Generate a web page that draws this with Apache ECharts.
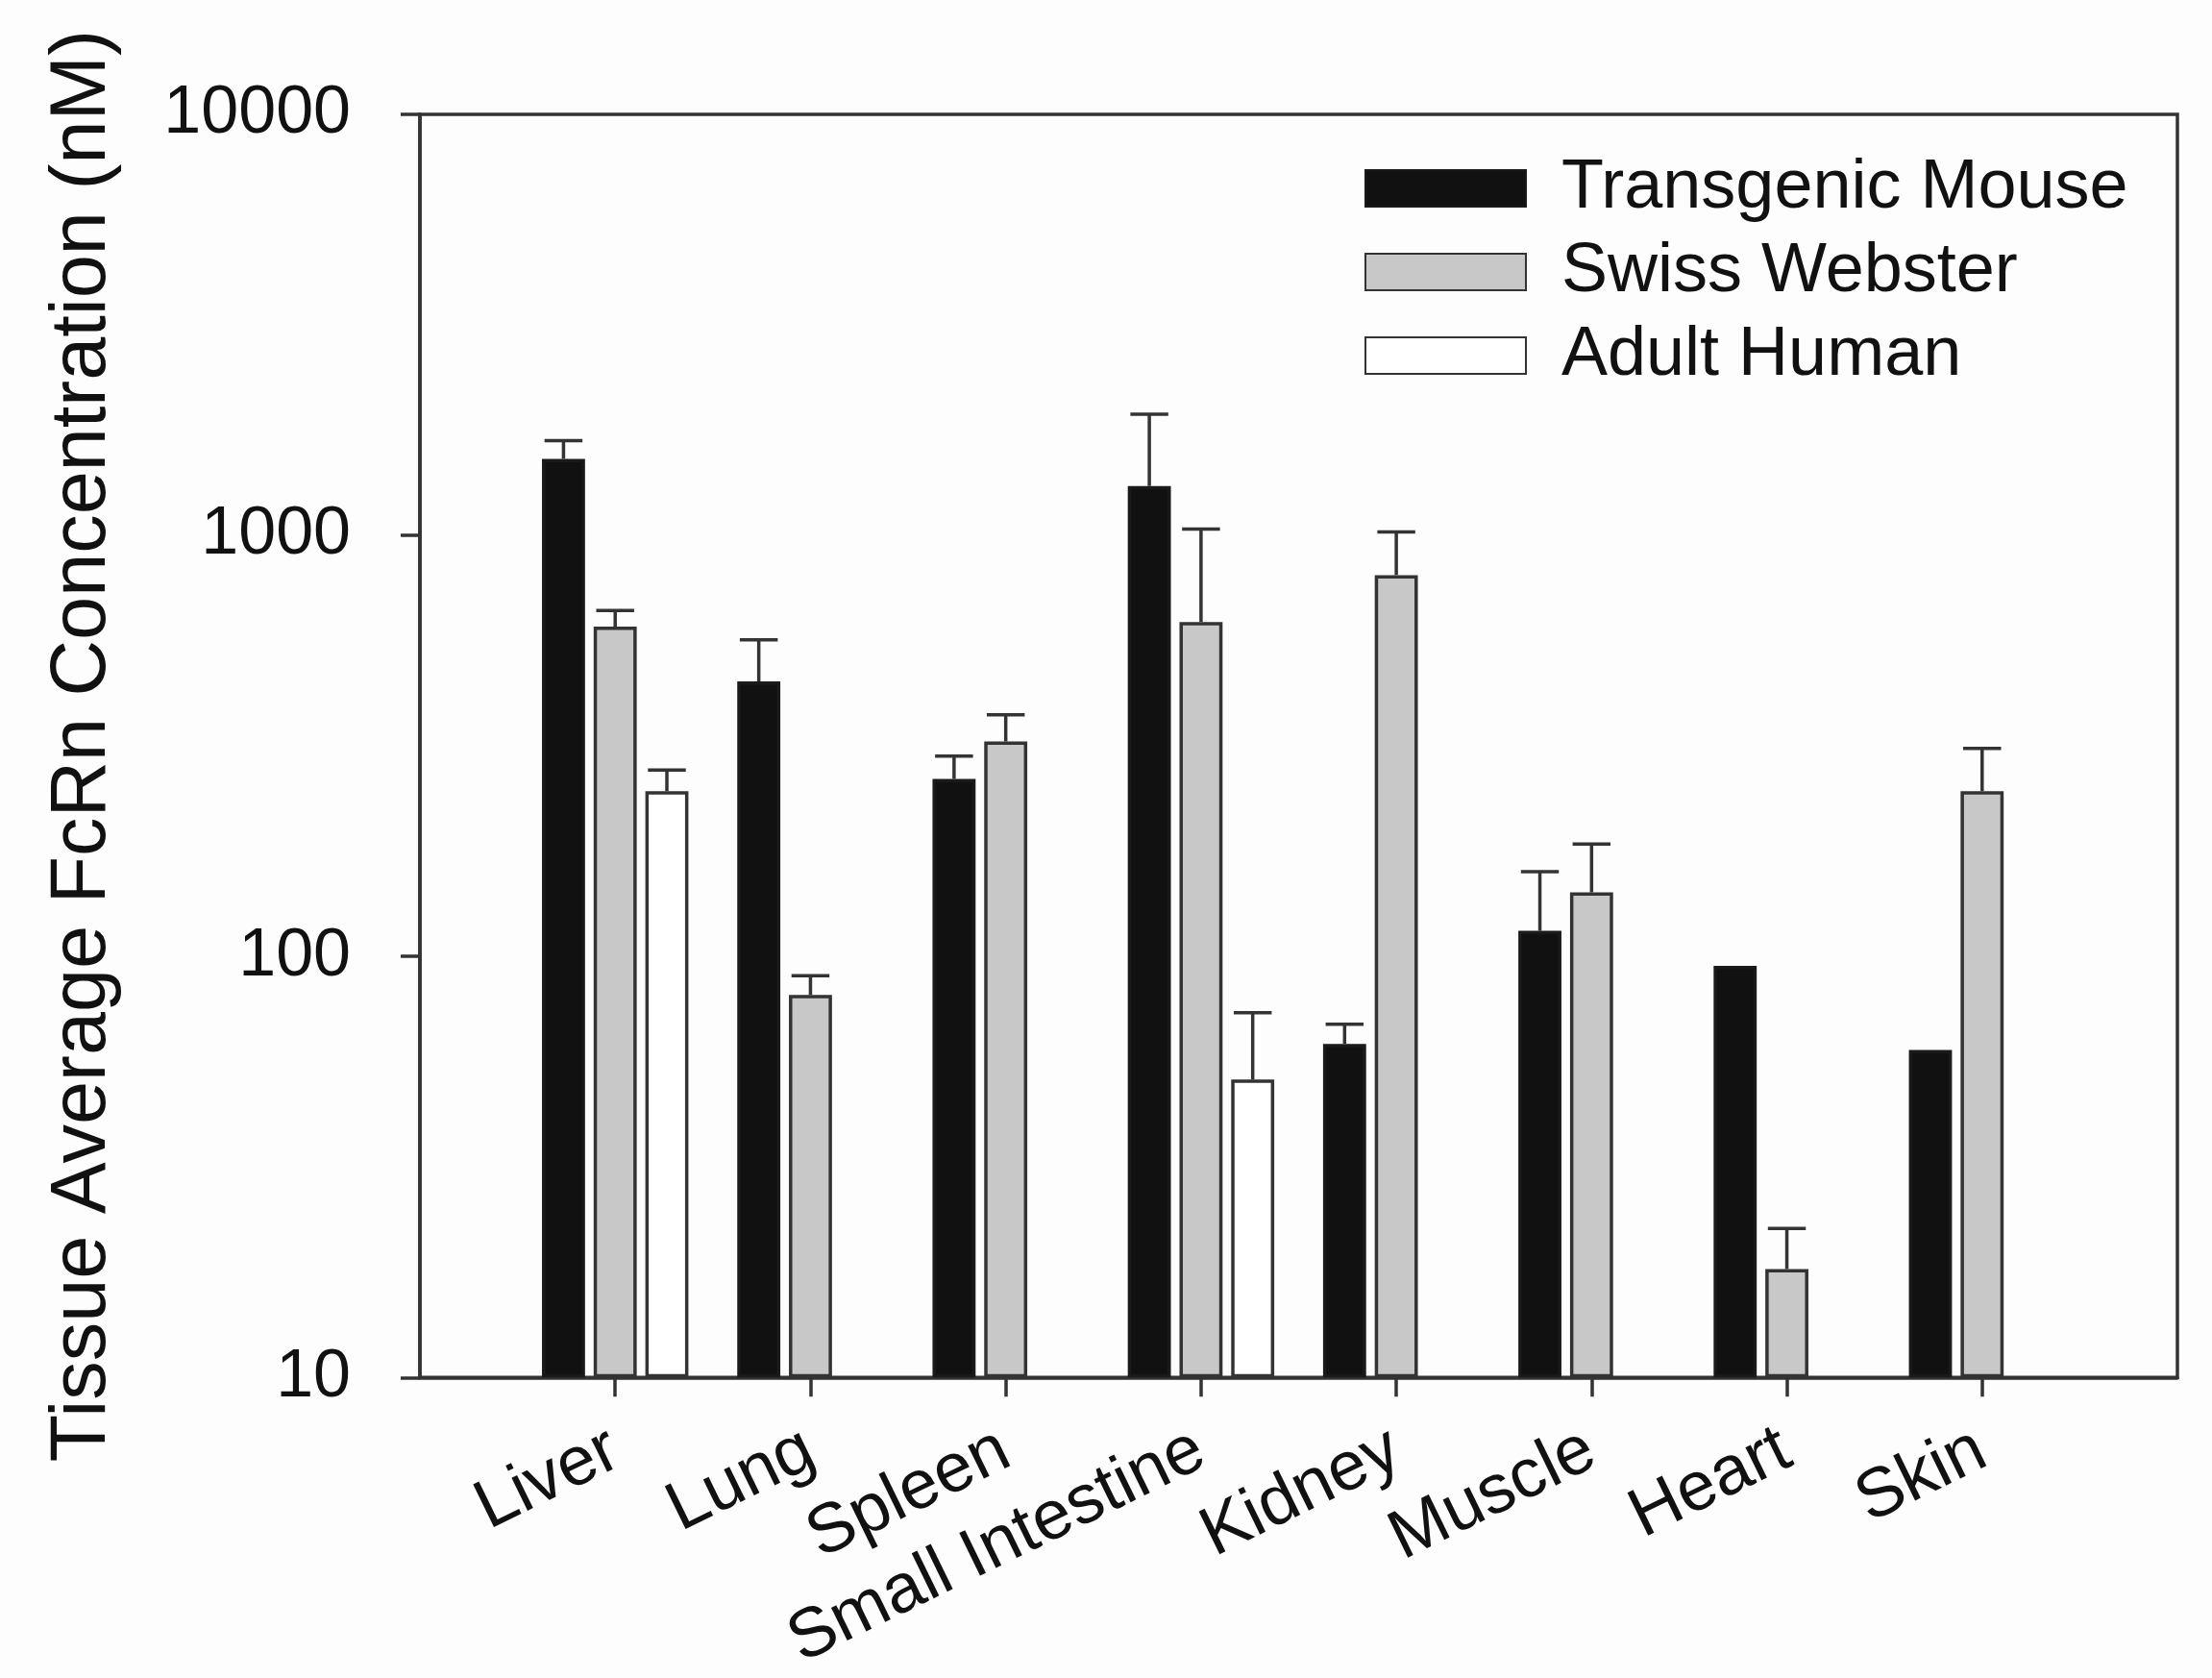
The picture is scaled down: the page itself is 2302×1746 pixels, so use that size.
<!DOCTYPE html>
<html>
<head>
<meta charset="utf-8">
<script src="https://cdn.jsdelivr.net/npm/echarts@6/dist/echarts.min.js"></script>
<style>
	html, body { margin: 0; padding: 0; background: #fdfdfd; }
	#chart { width: 2302px; height: 1746px; }
</style>
</head>
<body>
<div id="chart"></div>
<script>
// tissues on the x axis
var tissues = ['Liver', 'Lung', 'Spleen', 'Small Intestine', 'Kidney', 'Muscle', 'Heart', 'Skin']

// means (nM) and upper error (SD) per series
var transgenic   = [1520, 450, 264, 1310, 62, 115, 95, 60]
var transgenicSd = [160, 115, 35, 630, 7, 44, null, null]
var swiss        = [607, 81, 324, 623, 805, 142, 18.1, 247]
var swissSd      = [56, 9, 51, 412, 214, 43, 4.5, 65]
var human        = [247, null, null, 51, null, null, null, null]
var humanSd      = [30, null, null, 22.5, null, null, null, null]

var yTicks = [10, 100, 1000, 10000]

var seriesNames = ['Transgenic Mouse', 'Swiss Webster', 'Adult Human']
var fills = ['#111111', '#c8c8c8', '#ffffff']

var FONT = '"Liberation Sans", Arial, Helvetica, sans-serif'
var INK = '#333333'
var CAT_GAP = 0.25, BAR_GAP = 0.2

// one empty slot at each end so ticks sit a full band from the frame
var axisCats = [''].concat(tissues, [''])
function pad(arr) { return [null].concat(arr, [null]) }

function errData(means, sds) {
	var out = []
	for (var i = 0; i < means.length; i++) {
		if (means[i] != null && sds[i] != null) out.push([i + 1, means[i], sds[i]])
	}
	return out
}

function errSeries(means, sds, k) {
	return {
		type: 'custom',
		z: 5,
		silent: true,
		data: errData(means, sds),
		renderItem: function (params, api) {
			var bw = api.size([1, 0])[0]
			var barW = bw * (1 - CAT_GAP) / (3 + 2 * BAR_GAP)
			var dx = k * barW * (1 + BAR_GAP)
			var top = api.coord([api.value(0), api.value(1)])
			var end = api.coord([api.value(0), api.value(1) + api.value(2)])
			var x = top[0] + dx, cap = barW * 0.44
			var st = { stroke: INK, lineWidth: 3.5 }
			return {
				type: 'group',
				children: [
					{ type: 'line', shape: { x1: x, y1: top[1], x2: x, y2: end[1] }, style: st },
					{ type: 'line', shape: { x1: x - cap, y1: end[1], x2: x + cap, y2: end[1] }, style: st }
				]
			}
		}
	}
}

function barSeries(name, data, i) {
	return {
		name: name,
		type: 'bar',
		data: pad(data),
		barGap: (BAR_GAP * 100) + '%',
		barCategoryGap: (CAT_GAP * 100) + '%',
		itemStyle: {
			color: fills[i],
			borderColor: i === 0 ? '#1a1a1a' : INK,
			borderWidth: 3.5
		}
	}
}

var myChart = echarts.init(document.getElementById('chart'))
var option = {
	backgroundColor: '#fdfdfd',
	animation: false,
	textStyle: { fontFamily: FONT, color: '#111' },
	grid: {
		left: 437, right: 36, top: 119, bottom: 308,
		show: true, borderColor: INK, borderWidth: 3.5, backgroundColor: 'transparent'
	},
	legend: {
		orient: 'vertical',
		left: 1420,
		top: 160,
		padding: 0,
		itemWidth: 167,
		itemHeight: 38,
		itemGap: 15,
		icon: 'rect',
		selectedMode: false,
		data: seriesNames,
		textStyle: { fontSize: 72, fontFamily: FONT, color: '#111', lineHeight: 72, padding: [0, 0, 0, 32] }
	},
	xAxis: {
		type: 'category',
		data: axisCats,
		boundaryGap: false,
		axisLine: { lineStyle: { color: INK, width: 3.5 } },
		axisTick: {
			length: 20,
			interval: function (idx) { return idx > 0 && idx <= tissues.length },
			lineStyle: { color: INK, width: 3.5 }
		},
		axisLabel: {
			interval: 0,
			rotate: 26,
			margin: 72,
			fontSize: 72,
			fontFamily: FONT,
			color: '#111'
		},
		splitLine: { show: false }
	},
	yAxis: {
		type: 'log',
		logBase: 10,
		min: yTicks[0],
		max: yTicks[yTicks.length - 1],
		startValue: yTicks[0],
		name: 'Tissue Average FcRn Concentration (nM)',
		nameLocation: 'middle',
		nameGap: 310,
		nameTextStyle: { fontSize: 81, fontFamily: FONT, color: '#111' },
		axisLine: { show: true, lineStyle: { color: INK, width: 3.5 } },
		axisTick: { show: true, length: 20, lineStyle: { color: INK, width: 3.5 } },
		minorTick: { show: false },
		axisLabel: {
			margin: 72,
			fontSize: 70,
			fontFamily: FONT,
			color: '#111',
			formatter: function (v) { return String(Math.round(v)) }
		},
		splitLine: { show: false }
	},
	series: [
		barSeries(seriesNames[0], transgenic, 0),
		barSeries(seriesNames[1], swiss, 1),
		barSeries(seriesNames[2], human, 2),
		errSeries(transgenic, transgenicSd, -1),
		errSeries(swiss, swissSd, 0),
		errSeries(human, humanSd, 1)
	]
}
myChart.setOption(option)
</script>
</body>
</html>
